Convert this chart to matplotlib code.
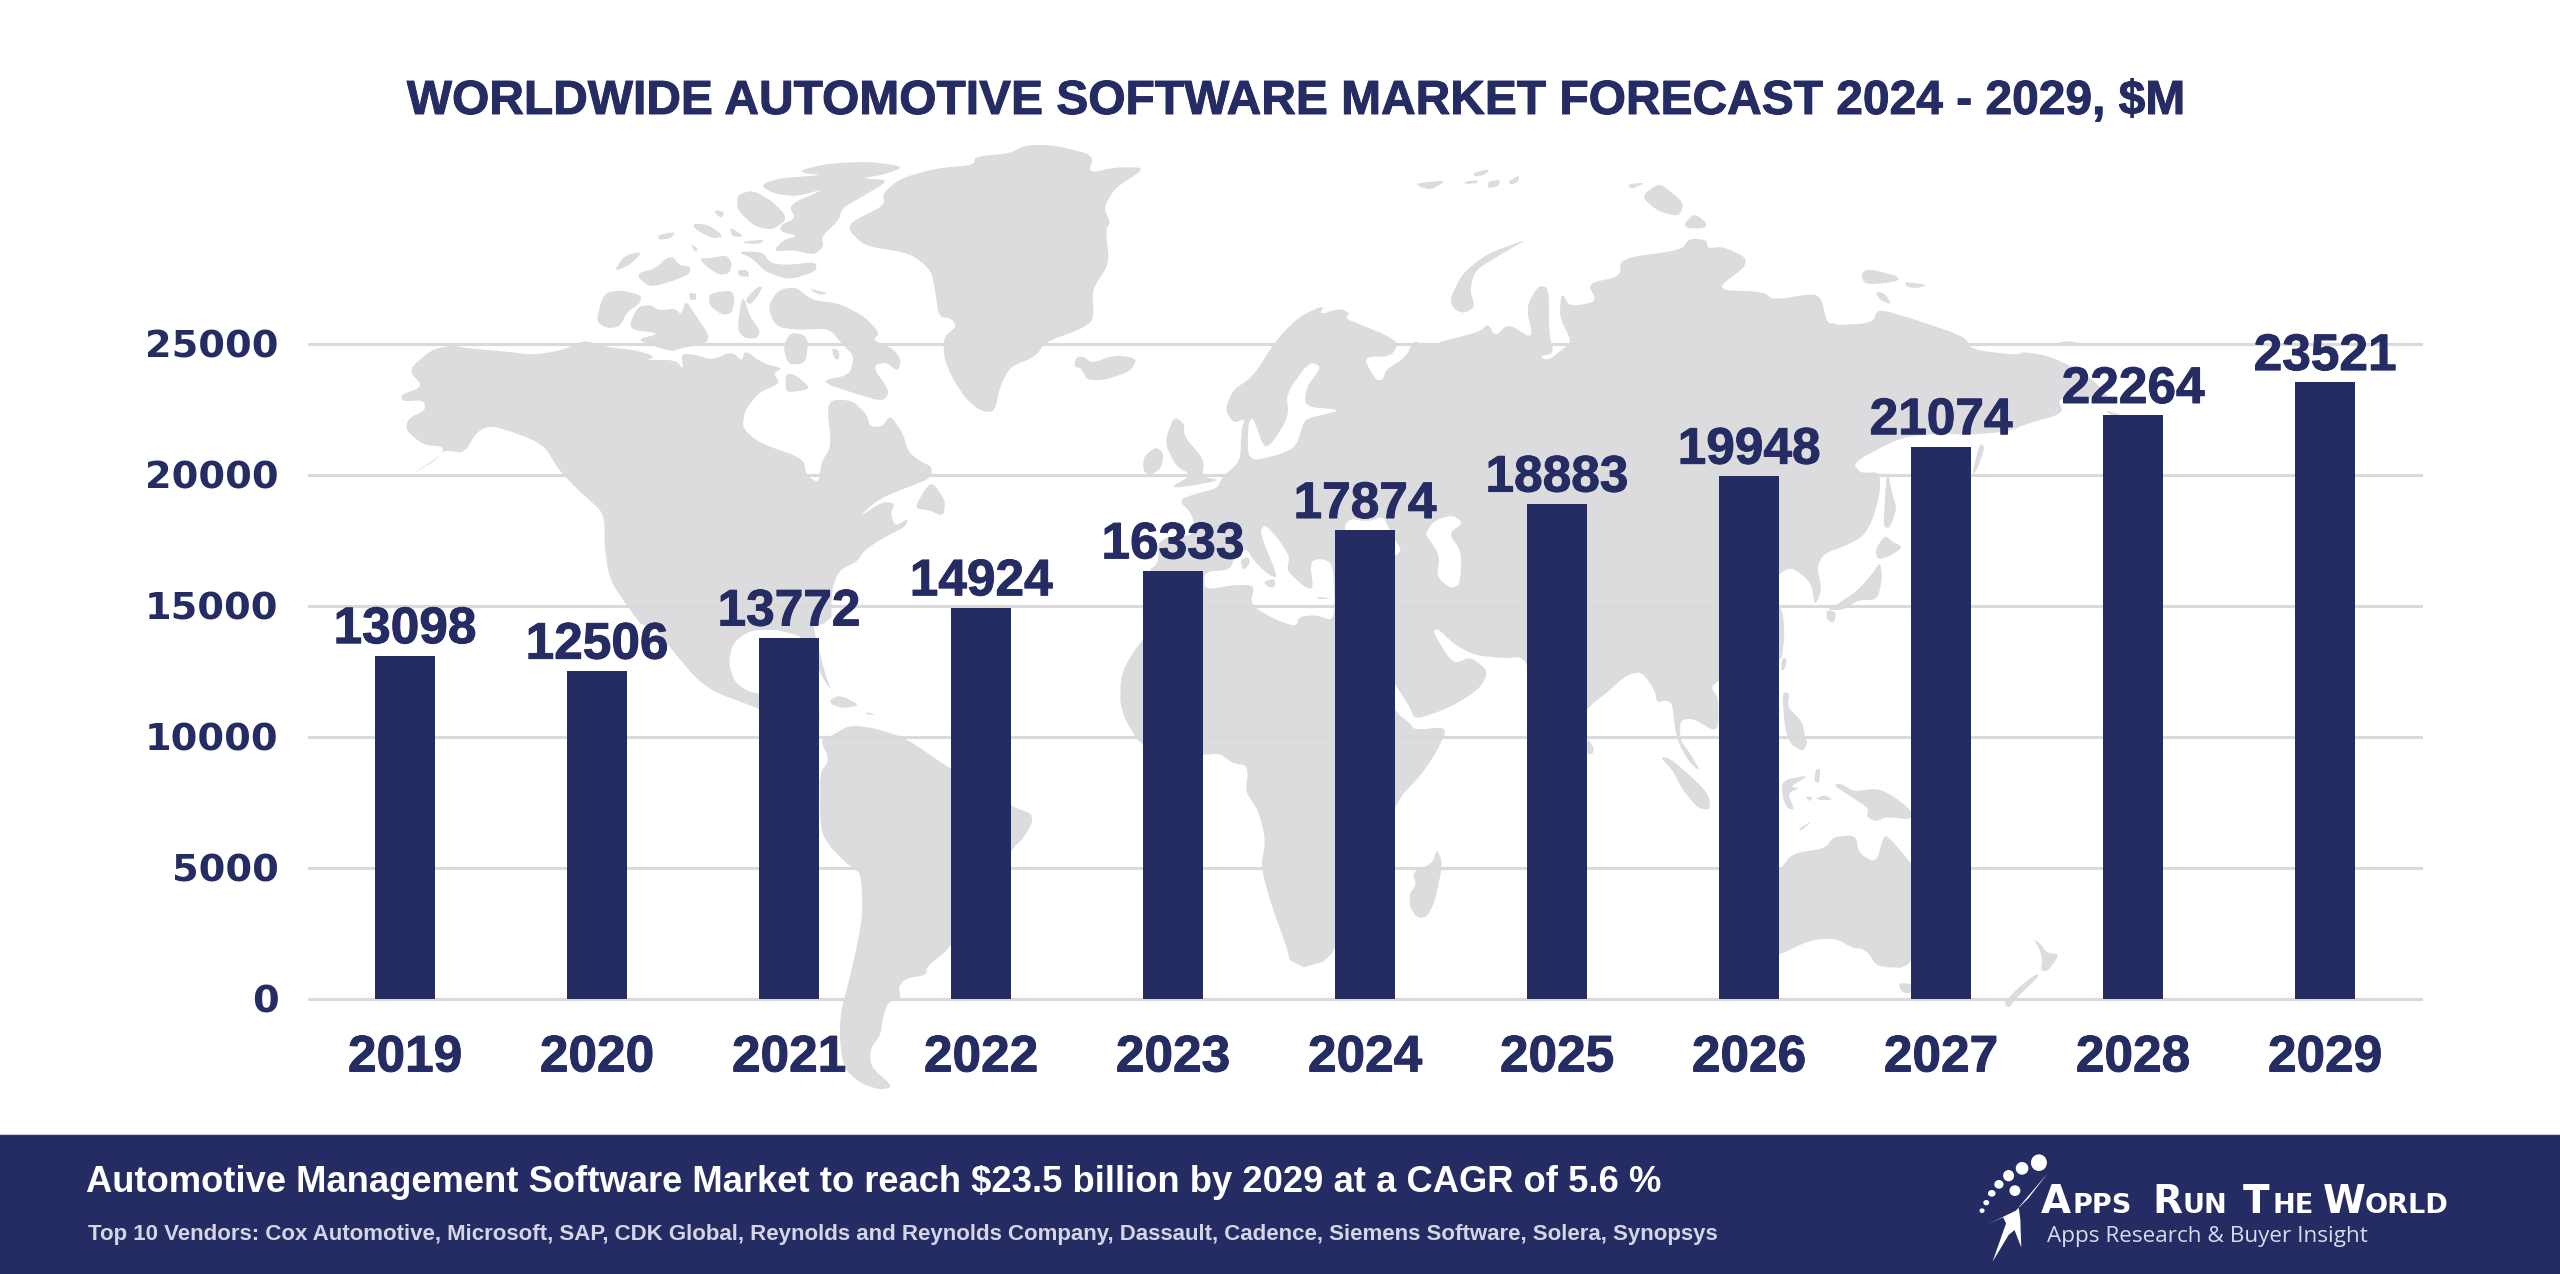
import numpy as np
import matplotlib
matplotlib.use('Agg')
from matplotlib import pyplot as plt
from matplotlib.patches import Polygon, Rectangle, Ellipse
from matplotlib import patheffects as pe

years = ['2019', '2020', '2021', '2022', '2023', '2024', '2025', '2026', '2027', '2028', '2029']
values = [13098, 12506, 13772, 14924, 16333, 17874, 18883, 19948, 21074, 22264, 23521]
y_ticks = [0, 5000, 10000, 15000, 20000, 25000]

title = 'WORLDWIDE AUTOMOTIVE SOFTWARE MARKET FORECAST 2024 - 2029, $M'
headline = 'Automotive Management Software Market to reach $23.5 billion by 2029 at a CAGR of 5.6 %'
vendors = ('Top 10 Vendors: Cox Automotive, Microsoft, SAP, CDK Global, Reynolds and Reynolds Company, '
           'Dassault, Cadence, Siemens Software, Solera, Synopsys')

NAVY = '#252C63'
LAND = '#DCDBDE'
GRID = '#DADADA'
W, H = 2560, 1274

CROPS = {'A': (380, 130, 1.96), 'B': (600, 600, 1.96), 'C': (1100, 160, 1.96),
         'D': (1800, 160, 2.063), 'E': (1300, 600, 1.96), 'G': (1120, 500, 3.0)}


def px(crop, pts):
    x0, y0, sx = CROPS[crop]
    return [(x0 + a / sx, y0 + b / 3.0) for a, b in pts]


north_america = px('A', [(55,720),(100,660),(140,645),(170,655),(250,665),(300,675),(360,660),(400,630),(440,650),(500,660),(540,680),(520,690),(580,690),(595,720),(590,670),(620,675),(650,690),(690,665),(710,695),(715,660),(750,700),(790,715),(770,730),(785,760),(745,785),(715,840),(710,895),(745,940),(830,985),(835,1035),(860,1060),(865,995),(885,950),(875,810),(925,810),(955,855),(960,890),(985,890),(1000,855),(1025,910),(1035,965),(1060,995),(1082,1010),(1080,1045),(1020,1080),(975,1110),(935,1165),(985,1115),(1010,1120),(1000,1150),(1010,1190),(1035,1165),(1030,1190),(985,1225),(950,1260),(935,1295),(900,1320),(885,1380),(885,1500),(520,1500),(490,1440),(450,1350),(440,1250),(440,1150),(395,1090),(350,1020),(320,940),(220,885),(190,905),(165,970),(125,960),(110,990),(60,1035),(120,975),(125,950),(85,945),(50,900),(55,865),(90,840),(85,810),(45,815),(40,795),(85,770)])
mexico = px('B', [(60,-20),(130,130),(205,265),(310,325),(400,380),(430,395),(430,300),(300,282),(265,250),(252,190),(260,130),(290,95),(330,85),(375,100),(400,115),(430,215),(455,280),(440,215),(415,60),(410,-20)])
south_america = px('B', [(450,410),(490,375),(540,385),(600,415),(690,510),(808,620),(845,640),(848,665),(830,715),(808,745),(690,1040),(640,1100),(640,1125),(600,1135),(585,1160),(590,1195),(565,1205),(555,1250),(550,1305),(530,1345),(530,1400),(575,1460),(550,1470),(510,1450),(475,1400),(468,1260),(495,1100),(515,950),(512,820),(490,800),(450,740),(432,690),(430,520),(450,480),(432,420)])
greenland = px('A', [(1165,80),(1235,70),(1265,45),(1320,45),(1400,75),(1388,130),(1440,112),(1492,112),(1490,125),(1440,175),(1418,235),(1432,278),(1422,300),(1430,400),(1395,480),(1400,570),(1370,600),(1305,635),(1285,680),(1235,710),(1215,770),(1205,845),(1180,845),(1150,810),(1120,740),(1105,680),(1105,620),(1130,590),(1120,565),(1095,560),(1088,480),(1080,420),(1040,370),(950,348),(918,300),(925,275),(990,225),(985,190),(1020,145),(1090,115),(1165,105)])
arctic = [px('A', p) for p in [
    [(825,120),(880,100),(960,95),(1030,110),(985,135),(940,145),(1000,150),(945,200),(905,235),(900,270),(865,320),(870,350),(850,375),(810,360),(770,365),(790,330),(820,318),(785,305),(785,285),(815,265),(800,225),(875,175),(815,200),(770,190),(745,165),(780,145),(870,135),(830,130)],
    [(700,195),(730,180),(770,215),(800,265),(770,300),(735,290),(700,240)],
    [(655,240),(675,245),(670,265),(660,255)],
    [(615,280),(645,285),(675,320),(650,325),(615,295)],
    [(685,290),(715,320),(690,320)],
    [(712,335),(755,328),(745,342),(715,340)],
    [(545,315),(580,305),(570,325),(545,330)],
    [(700,365),(750,365),(765,400),(800,405),(855,395),(855,425),(800,450),(755,425),(730,385)],
    [(610,340),(625,360),(615,365)],
    [(458,425),(480,375),(515,365),(490,405)],
    [(505,430),(540,415),(560,385),(575,380),(585,405),(610,410),(605,435),(560,460),(530,470),(510,450)],
    [(625,385),(645,385),(680,375),(690,400),(685,430),(665,435),(640,410)],
    [(700,420),(720,420),(725,440),(705,440)],
    [(438,490),(470,480),(512,495),(510,520),(485,545),(470,590),(445,595),(423,575)],
    [(490,580),(505,530),(530,525),(548,542),(578,535),(590,555),(600,510),(620,560),(645,615),(640,640),(590,655),(570,665),(500,630),(550,610),(495,600)],
    [(700,600),(710,490),(725,560),(745,600),(740,625),(715,625)],
    [(715,510),(740,470),(750,470),(740,500),(725,525)],
    [(645,490),(690,480),(695,510),(690,550),(670,555),(645,525)],
    [(605,490),(620,490),(620,510),(608,510)],
    [(760,530),(780,480),(815,470),(845,510),(900,520),(950,560),(980,610),(965,630),(1005,655),(1022,690),(1015,725),(990,695),(965,710),(1000,785),(985,815),(930,790),(880,765),(870,750),(920,735),(930,680),(905,640),(880,595),(820,600),(775,590)],
    [(840,475),(880,490),(860,495)],
    [(885,655),(900,660),(900,690),(890,685)],
    [(795,730),(815,735),(845,775),(815,785),(795,785)],
    [(805,605),(840,620),(835,700),(800,705),(790,650)],
    [(1082,1055),(1108,1110),(1105,1160),(1075,1140),(1048,1135),(1065,1085)],
    [(1365,680),(1380,680),(1395,700),(1440,675),(1485,685),(1470,725),(1420,750),(1385,750),(1375,715),(1360,710)],
]]
eurasia = (px('C', [(245,750),(260,690),(300,650),(345,540),(390,470),(440,435),(430,465),(470,445),(490,460),(480,475),(505,490),(560,525),(585,550),(570,590),(515,590),(540,660),(555,660),(560,630),(600,590),(615,540),(640,560),(680,540),(745,515),(760,490),(775,530),(800,490),(850,540),(835,440),(860,375),(880,385),(880,520),(890,580),(860,590),(880,600),(905,570),(925,545),(900,470),(905,395),(920,440),(975,425),(955,370),(1020,350),(1020,295),(1140,270),(1155,235),(1190,240),(1190,265),(1220,260),(1265,290),(1265,320),(1205,390),(1300,395),(1320,420),(1400,400),(1415,420),(1425,490),(1445,490)])
           + px('D', [(70,495),(150,490),(160,445),(240,480),(340,530),(355,570),(450,585),(460,575),(520,590),(600,650),(650,735),(600,710),(530,715),(545,760),(470,790),(430,815),(340,825),(300,820),(210,830),(108,908),(125,940),(165,935),(165,1000),(150,1080),(130,1130),(90,1160),(50,1180),(35,1220),(45,1290),(30,1340)])
           + px('C', [(1395,1270),(1360,1225),(1340,1230)])
           + px('E', [(900,-20),(945,20),(950,100),(945,170),(940,180),(820,240),(805,265),(820,290),(820,400),(770,355),(745,360),(745,420),(765,460),(785,515),(765,490),(745,440),(735,390),(730,310),(715,300),(700,310),(695,270),(670,215),(640,225),(600,280),(565,320),(500,470),(445,170),(400,175),(340,165),(300,130),(270,85),(260,95),(290,170),(305,190),(335,170),(370,215),(350,270),(290,325),(225,360),(215,320),(187,255),(150,150)])
           + px('G', [(645,365),(253,300),(80,215),(115,190),(115,115),(230,105),(215,40),(175,0)])
           + px('C', [(190,1000),(230,985),(240,950),(275,905),(277,810),(285,775),(262,790)]))
africa = (px('G', [(253,270),(340,255),(405,255),(390,315),(470,360),(530,380),(535,350),(590,345),(645,365)])
          + px('E', [(187,335),(215,370),(225,390),(290,380),(270,450),(235,530),(187,605),(68,1075),(0,1105)])
          + px('B', [(1385,1105),(1350,1080),(1350,1060),(1315,910),(1295,800),(1305,720),(1290,630),(1265,575),(1270,520),(1265,495),(1240,490),(1215,460),(1185,465),(1065,450),(1020,335),(1020,220),(1065,110)]))
australia = px('E', [(880,900),(940,810),(965,760),(1030,745),(1045,710),(1090,705),(1095,760),(1130,790),(1145,700),(1165,730),(1198,790),(1250,900),(1198,1105),(1130,1100),(1115,1060),(1100,1045),(1085,1045),(1050,1015),(1000,1020),(940,1065),(880,1080)])
islands = ([px('E', p) for p in [
    [(268,745),(280,790),(265,900),(250,950),(230,955),(215,920),(215,880),(228,855),(220,815),(260,790)],
    [(563,415),(575,440),(575,460),(563,465)],
    [(705,470),(725,475),(760,520),(800,580),(805,630),(780,625),(750,570),(730,510)],
    [(945,175),(955,175),(950,210),(942,210)],
    [(945,275),(960,280),(955,320),(975,350),(985,370),(990,410),(995,430),(985,455),(960,430),(950,380)],
    [(945,540),(1000,525),(960,560),(980,565),(955,580),(970,630),(955,625),(945,590)],
    [(1010,510),(1020,505),(1018,550),(1008,545)],
    [(990,590),(1005,590),(1000,605)],
    [(1010,595),(1030,585),(1045,600),(1020,600)],
    [(975,690),(1005,660),(985,690)],
    [(1045,555),(1060,550),(1085,575),(1130,565),(1160,585),(1198,630),(1198,660),(1150,650),(1130,665),(1110,650),(1115,625),(1080,590)],
    [(1172,1150),(1198,1150),(1198,1180),(1180,1178)],
    [(1438,1018),(1450,1030),(1465,1060),(1490,1062),(1465,1115),(1452,1110),(1455,1080),(1450,1050)],
    [(1445,1120),(1448,1130),(1400,1200),(1390,1225),(1378,1210),(1410,1160)],
]] + [px('C', p) for p in [
    [(130,830),(145,770),(165,790),(165,830),(205,900),(200,950),(235,960),(190,975),(135,985),(180,945),(150,920),(130,860)],
    [(85,935),(85,890),(110,860),(125,880),(120,925),(100,945)],
    [(620,70),(680,60),(650,90),(625,80)],
    [(715,65),(740,60),(740,70),(715,72)],
    [(760,65),(785,58),(780,80),(760,85)],
    [(800,65),(822,45),(820,65),(805,75)],
    [(730,40),(765,25),(755,45),(735,50)],
    [(685,420),(710,340),(760,280),(842,235),(800,270),(735,330),(725,390),(735,440),(715,460),(695,450)],
    [(1035,72),(1070,68),(1040,88)],
    [(1060,110),(1095,70),(1115,90),(1145,130),(1135,170),(1095,155)],
    [(1145,190),(1165,160),(1190,190),(1185,205),(1150,205)],
]] + [px('D', p) for p in [
    [(530,548),(555,543),(580,550),(555,558)],
    [(125,345),(140,325),(205,350),(200,365),(135,375)],
    [(215,365),(265,375),(240,385),(220,380)],
    [(155,395),(175,400),(190,435),(165,420)],
    [(630,750),(665,765),(640,765)],
    [(370,850),(382,860),(365,930),(355,945)],
    [(180,925),(190,1000),(200,1045),(185,1105),(172,1100),(175,1020)],
    [(175,1125),(190,1145),(213,1160),(190,1185),(160,1200),(155,1170)],
    [(165,1205),(170,1250),(160,1320),(120,1320),(90,1350),(55,1350),(75,1335),(120,1290),(150,1240)],
    [(55,1350),(75,1355),(70,1390),(55,1380)],
]] + [px('B', p) for p in [
    [(450,300),(470,285),(510,315),(480,325),(455,315)],
    [(520,335),(540,345),(525,345)],
]])
seas = [px('G', p) for p in [
    [(253,215),(330,210),(345,170),(380,145),(400,180),(440,220),(470,235),(465,210),(420,100),(432,72),(470,110),(510,170),(500,210),(530,240),(560,265),(580,265),(570,185),(600,175),(640,190),(645,365),(590,345),(535,350),(530,380),(470,360),(390,315),(405,255),(340,255),(253,270)],
    [(670,85),(690,55),(740,65),(790,50),(800,70),(825,120),(845,150),(825,170),(700,160)],
    [(915,100),(945,60),(1000,45),(1030,70),(985,100),(1025,155),(1020,255),(990,265),(950,230),(960,170),(930,120)],
]] + [px('C', [(410,605),(435,620),(405,680),(400,740),(475,750),(420,770),(400,780),(385,860),(350,885),(290,905),(290,790),(300,770),(320,860),(335,855),(370,770),(365,700)])]
med_islands = [px('G', p) for p in [
    [(360,180),(385,170),(390,190),(370,212)],
    [(430,245),(465,235),(465,262),(445,262)],
    [(585,290),(640,295),(600,298)],
]]

logo_dots = [(330, 128, 19, 25), (290, 145, 15, 19), (258, 167, 13, 17), (235, 193, 11, 13),
             (218, 220, 9, 10), (205, 248, 7, 8), (195, 272, 6, 7), (273, 212, 13, 16)]
logo_figure = [(352,158),(305,235),(275,272),(210,312),(245,292),(252,310),(220,425),(258,345),(272,330),(288,382),(286,300),(282,262)]
logo_pieces = [('A', 335, 1), ('PPS', 410, 0), ('R', 600, 1), ('UN', 670, 0), ('T', 815, 1),
               ('HE', 885, 0), ('W', 1005, 1), ('ORLD', 1105, 0)]


def smooth(pts, n=2):
    # corner cutting so the traced outlines do not look like straight segments
    p = np.array(pts, dtype=float)
    for _ in range(n):
        q = np.roll(p, -1, axis=0)
        p = np.column_stack([0.8 * p + 0.2 * q, 0.2 * p + 0.8 * q]).reshape(-1, 2)
    return p


def heavy(width):
    # the reference face is heavier than any installed bold
    return [pe.withStroke(linewidth=width, foreground=NAVY)]


fig = plt.figure(figsize=(W / 100, H / 100), dpi=100, facecolor='white')

bg = fig.add_axes([0, 0, 1, 1], zorder=0)
bg.set_xlim(0, W)
bg.set_ylim(H, 0)
bg.axis('off')

land = [north_america, mexico, south_america, greenland, eurasia, africa, australia] + arctic + islands
for shape in land:
    bg.add_patch(Polygon(smooth(shape), closed=True, fc=LAND, ec='none', zorder=1))
for shape in seas:
    bg.add_patch(Polygon(smooth(shape), closed=True, fc='white', ec='none', zorder=2))
for shape in med_islands:
    bg.add_patch(Polygon(smooth(shape), closed=True, fc=LAND, ec='none', zorder=3))

# chart
ax = fig.add_axes([309 / W, 1 - 998.7 / H, 2112 / W, (998.7 - 343.7) / H], zorder=1)
ax.patch.set_alpha(0)
x = np.arange(len(years))
bars = ax.bar(x, values, width=0.315, color=NAVY, zorder=3)
ax.set_xlim(-0.5, len(years) - 0.5)
ax.set_ylim(0, 25000)
ax.set_xticks(x)
ax.set_xticklabels(years, fontsize=37, fontweight='bold', family='Liberation Sans', color=NAVY,
                   path_effects=heavy(0.7))
ax.set_yticks(y_ticks)
ax.set_yticklabels([str(v) for v in y_ticks], fontsize=27.5, fontweight='bold', family='DejaVu Sans', color=NAVY)
ax.tick_params(axis='x', length=0, pad=25)
ax.tick_params(axis='y', length=0, pad=22)
ax.grid(axis='y', color=GRID, linewidth=2.2, zorder=1)
for line in ax.get_ygridlines():
    line.set_clip_on(False)
for s in ax.spines.values():
    s.set_visible(False)
labels = ax.bar_label(bars, fontsize=37, fontweight='bold', family='Liberation Sans', color=NAVY, padding=1)
for t in labels:
    t.set_path_effects(heavy(0.7))

# title
bg.text(1295.5, 114, title, ha='center', va='baseline', fontsize=34.5, fontweight='bold',
        family='Liberation Sans', color=NAVY, zorder=5, path_effects=heavy(0.7))

# footer band
bg.add_patch(Rectangle((0, 1134), W, H - 1134, fc=NAVY, ec='none', zorder=6))
bg.plot([0, W], [1133.5, 1133.5], color='#C9CBDC', lw=0.8, zorder=6)
bg.text(86, 1192, headline, ha='left', va='baseline', fontsize=26.2, fontweight='bold',
        family='Liberation Sans', color='white', zorder=7)
bg.text(88, 1240, vendors, ha='left', va='baseline', fontsize=16, fontweight='bold',
        family='Liberation Sans', color='#D5D6E5', zorder=7)

# logo
lx = 1568 / 660.0
for cx, cy, rx, ry in logo_dots:
    bg.add_patch(Ellipse((1900 + cx / lx, 1120 + cy / 3.0), 2 * rx / lx, 2 * ry / 3.0, fc='white', ec='none', zorder=7))
bg.add_patch(Polygon([(1900 + a / lx, 1120 + b / 3.0) for a, b in logo_figure], closed=True, fc='white', ec='none', zorder=7))
for piece, zx, big in logo_pieces:
    bg.text(1900 + zx / lx, 1213, piece, ha='left', va='baseline', fontsize=28 if big else 19.5,
            fontweight='bold', family='DejaVu Sans', color='white', zorder=7)
bg.text(2047, 1242, 'Apps Research & Buyer Insight', ha='left', va='baseline', fontsize=16.2,
        family='Open Sans', color='#DADBE9', zorder=7)

plt.savefig('out.png', dpi=100)
